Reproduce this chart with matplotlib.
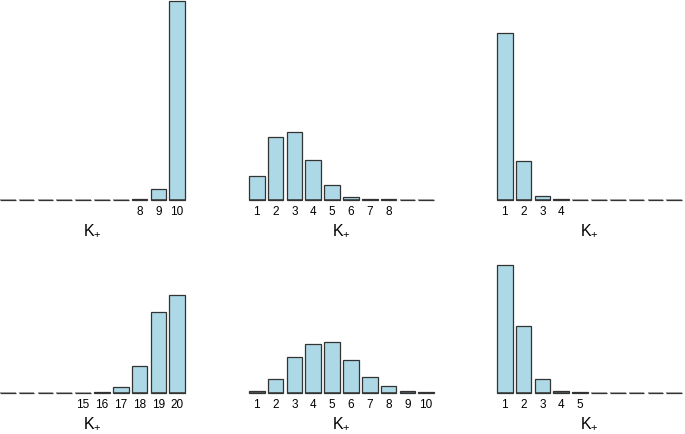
import matplotlib
matplotlib.use("Agg")
import matplotlib.pyplot as plt
import numpy as np

plt.rcParams['font.family'] = ['Liberation Sans', 'DejaVu Sans']
plt.rcParams['mathtext.fontset'] = 'custom'
plt.rcParams['mathtext.rm'] = 'Liberation Sans'

# posterior probabilities of K+ for each panel
probs_top_left = [0, 0, 0, 0, 0, 0, 0, 0.001, 0.052, 0.947]
probs_top_mid = [0.11, 0.30, 0.32, 0.186, 0.067, 0.014, 0.0025, 0.001, 0, 0]
probs_top_right = [0.795, 0.181, 0.019, 0.0015, 0, 0, 0, 0, 0, 0]
probs_bot_left = [0] * 15 + [0.0025, 0.024, 0.124, 0.381, 0.462]
probs_bot_mid = [0.0095, 0.065, 0.17, 0.229, 0.24, 0.154, 0.075, 0.029, 0.006, 0.0015]
probs_bot_right = [0.607, 0.319, 0.062, 0.006, 0.0015, 0, 0, 0, 0, 0]

labels_top_left = [8, 9, 10]
labels_top_mid = [1, 2, 3, 4, 5, 6, 7, 8]
labels_top_right = [1, 2, 3, 4]
labels_bot_left = [15, 16, 17, 18, 19, 20]
labels_bot_mid = [1, 2, 3, 4, 5, 6, 7, 8, 9, 10]
labels_bot_right = [1, 2, 3, 4, 5]

W, H = 685, 435
fig = plt.figure(figsize=(W / 100, H / 100), dpi=100)


def panel(left_px, base_px, probs, labels, first_shown=1):
    ax = fig.add_axes([left_px / W, (H - base_px - 0.5) / H, 185 / W, 210 / H])
    ax.patch.set_alpha(0)
    probs = np.array(probs)
    k = np.arange(1, len(probs) + 1)
    # R style barplot: width 1, space 0.2
    x = 0.2 + 1.2 * (k - 1) + 0.5
    edges = ['#8a8a8a' if p == 0 else '#333333' for p in probs]
    lo = 0.2 + 1.2 * (first_shown - 1)
    shown = x > lo
    ax.bar(x[shown], probs[shown], width=1.0, color='#ADD8E6',
           edgecolor='#333333', linewidth=0.9, clip_on=False)
    # flat bars show up as short dashes on the baseline
    ax.hlines(np.zeros(shown.sum()), x[shown] - 0.5, x[shown] + 0.5,
              colors=[e for e, s in zip(edges, shown) if s], linewidth=1.1)
    ax.set_xlim(lo, lo + 11.8)
    ax.set_ylim(0, 1)
    ax.set_xticks([0.7 + 1.2 * (l - 1) for l in labels])
    ax.set_xticklabels([str(l) for l in labels], fontsize=8.5)
    ax.tick_params(axis='x', length=0, pad=4)
    ax.set_yticks([])
    for s in ax.spines.values():
        s.set_visible(False)
    ax.set_xlabel(r'K$_{+}$', fontsize=11.5, labelpad=3)
    return ax


panel(0, 200, probs_top_left, labels_top_left)
panel(249, 200, probs_top_mid, labels_top_mid)
panel(497, 200, probs_top_right, labels_top_right)
panel(0, 393, probs_bot_left, labels_bot_left, first_shown=11)
panel(249, 393, probs_bot_mid, labels_bot_mid)
panel(497, 393, probs_bot_right, labels_bot_right)

fig.savefig("out.png", dpi=100)
